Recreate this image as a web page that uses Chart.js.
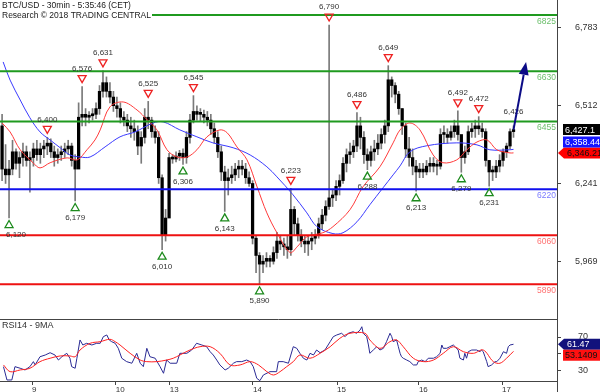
<!DOCTYPE html>
<html>
<head>
<meta charset="utf-8">
<script src="https://cdn.jsdelivr.net/npm/chart.js@4.4.0/dist/chart.umd.min.js"></script>
<style>
  body { margin: 0; background: #fff; }
  #wrap { position: relative; width: 600px; height: 392px; overflow: hidden; }
  canvas { position: absolute; left: 0; }
  #main { top: 0; }
  #rsi { top: 319px; }
</style>
</head>
<body>
<div id="wrap">
  <canvas id="main" width="600" height="320"></canvas>
  <canvas id="rsi" width="600" height="73"></canvas>
</div>
<script>
// one bar per hour, x = hour index from the left edge
const hi = [6480,6375,6320,6390,6360,6350,6380,6370,6350,6380, 6390,6380,6390,6400,6395,6370,6360,6370,6380,6390,
            6380,6340,6520,6576,6500,6490,6500,6520,6580,6631, 6610,6590,6560,6540,6520,6490,6480,6470,6460,6440,
            6420,6500,6525,6470,6440,6420,6270,6150,6345,6340, 6350,6355,6360,6420,6480,6545,6510,6500,6495,6490,
            6480,6450,6420,6370,6300,6290,6300,6310,6320,6320, 6310,6280,6250,6060,6000,5990,6000,5990,6020,6070,
            6060,6050,6060,6223,6160,6120,6080,6060,6060,6070, 6080,6120,6150,6180,6790,6220,6250,6270,6330,6360,
            6380,6390,6486,6470,6420,6360,6370,6390,6410,6430, 6460,6649,6610,6590,6560,6500,6450,6400,6360,6320,
            6310,6310,6320,6330,6330,6320,6430,6440,6430,6440, 6460,6492,6400,6370,6440,6450,6460,6472,6450,6430,
            6320,6300,6320,6340,6360,6380,6430,6440];
const lo = [6250,6240,6120,6270,6290,6260,6300,6300,6210,6300, 6320,6310,6330,6340,6330,6300,6310,6320,6330,6340,
            6300,6179,6300,6440,6440,6450,6460,6465,6480,6540, 6540,6520,6490,6470,6450,6440,6420,6400,6390,6340,
            6310,6380,6430,6400,6380,6240,6010,6040,6300,6310, 6315,6320,6306,6310,6380,6450,6460,6455,6450,6440,
            6410,6380,6330,6250,6143,6200,6240,6250,6260,6270, 6240,6230,6030,5930,5890,5930,5950,5950,5960,5980,
            6010,5990,5980,5990,6060,6040,6020,6000,5990,6010, 6030,6050,6080,6110,6150,6160,6180,6200,6240,6280,
            6310,6330,6350,6360,6310,6288,6300,6320,6340,6360, 6380,6420,6540,6520,6480,6410,6330,6300,6270,6213,
            6260,6260,6270,6280,6280,6270,6290,6380,6380,6390, 6400,6390,6279,6310,6340,6400,6400,6410,6400,6300,
            6231,6250,6260,6280,6300,6330,6360,6400];
const cl = [6290,6270,6290,6350,6310,6330,6350,6320,6330,6360, 6340,6360,6370,6380,6350,6330,6340,6350,6360,6370,
            6320,6290,6470,6480,6470,6475,6480,6500,6560,6590, 6560,6540,6510,6500,6470,6460,6440,6430,6420,6370,
            6400,6470,6460,6420,6400,6260,6060,6120,6330,6325, 6335,6345,6330,6400,6460,6490,6480,6480,6470,6460,
            6430,6400,6350,6280,6250,6260,6270,6290,6300,6290, 6260,6240,6050,5990,5960,5970,5980,5970,6000,6040,
            6030,6020,6010,6150,6100,6060,6040,6030,6040,6050, 6060,6100,6130,6160,6190,6200,6230,6250,6310,6340,
            6350,6370,6440,6400,6340,6320,6350,6360,6380,6410, 6440,6600,6580,6550,6500,6440,6360,6330,6300,6280,
            6290,6280,6300,6310,6300,6300,6410,6410,6400,6420, 6440,6410,6330,6350,6420,6430,6440,6430,6420,6320,
            6280,6280,6300,6320,6350,6370,6420,6427.1];
const firstOpen = 6440;

// moving averages on price, [hour, value]
const maFast = [[0,6450],[2.3,6419],[5.2,6357],[8.9,6312],[10.9,6294],[13.8,6312],[18.7,6329],[21.6,6322],[24.4,6357],
  [26.7,6391],[28.2,6426],[31,6506],[34.8,6523],[38.8,6495],[41.7,6461],[44.5,6426],[47.4,6357],[50.3,6332],[53.2,6332],
  [56,6357],[58.9,6402],[62.6,6426],[64.7,6416],[67.5,6367],[70.4,6322],[73.3,6228],[76.1,6138],[79,6069],[82.8,6000],
  [84.8,6020],[87.6,6055],[92.2,6069],[95.1,6090],[100,6149],[103.7,6228],[108.6,6298],[112.4,6381],[114.4,6426],
  [117.2,6450],[120.1,6426],[123.9,6339],[126.7,6312],[130.7,6322],[133.6,6357],[136.5,6384],[139.4,6391],[142.2,6357],
  [146,6346],[147,6346.21]];
const maSlow = [[0.3,6662],[2.3,6599],[5.2,6530],[8,6468],[10.9,6419],[13.8,6391],[16.7,6364],[19.5,6339],[22.4,6332],
  [25.3,6332],[29.6,6367],[33.9,6402],[38.2,6419],[43.4,6450],[46.3,6454],[51.1,6426],[56,6402],[60.6,6381],[66.4,6364],
  [71.3,6339],[76.1,6298],[79,6263],[83.6,6201],[87.6,6138],[90.5,6090],[95.1,6066],[98,6069],[102,6107],[105.7,6166],
  [109.5,6225],[112.4,6270],[114.4,6301],[117.2,6350],[122.1,6371],[130.7,6381],[136.5,6374],[140.2,6357],[146,6357],
  [147,6358.44]];

// support / resistance levels
const levels = [6825, 6630, 6455, 6220, 6060, 5890];
const levelColor = ['#1f9a1f','#1f9a1f','#1f9a1f','#1010ee','#ee1111','#ee1111'];
const levelText = ['#6cbf6c','#6cbf6c','#6cbf6c','#7a7aff','#ff7272','#ff7272'];

// swing highs (H), lows (L) and the last quote label (N)
const markHour  = [13, 23, 29, 42, 55, 83, 94, 102, 111, 131, 137, 2, 21, 46, 52, 64, 74, 105, 119, 132, 140, 147];
const markPrice = [6400,6576,6631,6525,6545,6223,6790,6486,6649,6492,6472, 6120,6179,6010,6306,6143,5890,6288,6213,6279,6231, 6426];
const markType  = ['H','H','H','H','H','H','H','H','H','H','H','L','L','L','L','L','L','L','L','L','L','N'];

const arrowTo = [150.6, 6662];

// RSI panel, [hour, value]
const rsiLine = [[0.4,35.1],[1.4,19.4],[2.8,19.4],[3.7,35.1],[5.2,33.2],[6.6,31.2],[8,35.1],[9,41],[9.5,37.1],[10.9,46.8],
  [12.4,48.8],[13.8,51.5],[15.2,48.8],[16.2,42.9],[17.2,46.8],[18.6,50.8],[19.5,45],[20,35.1],[21,33.2],[21.5,45],[22.4,66.5],
  [23.2,60.6],[24.3,62.6],[25.8,60.6],[27.2,62.6],[28.2,62.6],[29.1,70.4],[30.1,72.4],[30.8,66.5],[31.5,64.5],[32.5,62.6],
  [33.4,56.7],[34.4,45],[35.8,41],[37.3,39.1],[38.7,50.8],[39.7,39.1],[40.6,35.1],[41.6,56.7],[42.5,46.8],[44,45],[45.4,35.1],
  [46.4,27.3],[47.3,43],[48.3,39.1],[50.2,39.1],[51.1,50.8],[53.1,50.8],[54.5,54.7],[55.9,62.6],[57.4,60.6],[58.8,58.6],
  [59.8,52.7],[60.7,48.8],[61.7,42.9],[62.6,37.1],[64.1,31.2],[65,33.2],[66.5,39.1],[67.4,41],[68.9,41],[70.3,42.9],[71.3,41],
  [72.2,35.1],[73.2,21.4],[74.1,18.6],[75.1,25.3],[77,29.2],[78.9,29.2],[79.4,41],[80.8,41],[82.3,39.1],[83.7,58.6],[84.7,56.7],
  [85.6,50.8],[86.6,45],[87.6,42.9],[88.5,50.8],[89.5,48.8],[90.4,54.7],[91.4,51.5],[92.8,54.7],[94.3,64.5],[95.2,70.4],
  [96.2,72.4],[97.6,74.4],[98.6,70.4],[99.5,74.4],[100.9,76.2],[101.9,74.4],[102.9,78.2],[103.4,82.1],[103.8,74.4],[104.8,70.4],
  [105.3,60.6],[105.7,50.8],[106.7,54.7],[107.7,58.6],[108.6,54.7],[109.6,56.7],[110.5,64.5],[111.5,74.4],[112,70.4],[112.4,64.5],
  [113.4,66.5],[113.9,58.6],[114.4,50.8],[114.8,46.8],[115.3,45],[116.3,42.9],[117.2,41],[118.2,37.1],[119.2,37.1],[119.6,41],
  [120.6,42.9],[121.6,41],[122.5,45],[124,45],[124.9,46.8],[125.9,50.8],[126.4,60.6],[126.8,56.7],[127.8,56.7],[128.7,58.6],
  [129.7,60.6],[130.2,58.6],[131.1,54.7],[131.6,45],[132.6,42.9],[133,50.8],[133.5,45],[134,52.7],[135,54.7],[136.4,54.7],
  [137.4,52.7],[137.8,54.7],[138.3,52.7],[138.8,46.8],[139.3,41],[139.7,35.1],[140.7,37.1],[141.7,41],[142.2,41],[143.1,45],
  [144.1,52.7],[145,50.8],[145.5,58.6],[146,60.6],[147,61.47]];
const rsiMa = [[0.4,37.1],[2.3,29.2],[5.2,31.2],[8,33.2],[10.9,41],[13.8,45],[16.7,47.7],[19.5,47.7],[21,46.8],[22.4,54.7],
  [25.3,62.6],[28.2,64.5],[31,67.3],[32.5,64.5],[33.9,60.6],[36.8,50.8],[39.7,42.9],[41.6,41],[44.5,41],[47.3,42.9],[49.2,45],
  [51.1,48.8],[54,54.7],[56.9,58.6],[59.8,58.6],[62.6,50.8],[65.5,37.1],[68.4,37.1],[71.3,41],[73.7,37.1],[76.1,29.2],[78,25.3],
  [79.9,29.2],[81.8,35.1],[83.7,41],[85.6,48.8],[88.5,45],[91.4,50.8],[94.3,58.6],[97.1,68.5],[100,74.4],[104.3,74.4],
  [105.7,66.5],[108.6,56.7],[111.5,64.5],[113.4,66.5],[115.3,58.6],[118.2,45],[121.1,41],[124,42.9],[126.8,50.8],[129.7,58.6],
  [132.6,52.7],[135.5,50.8],[138.3,54.7],[141.2,41],[143.1,39.1],[145,45],[147,53.1409]];

const priceTicks = [5969, 6241, 6512, 6783];
const rsiTicks = [30, 50, 70];
const dayPos = [8.6, 32.7, 48.2, 72.1, 96.3, 119.8, 143.7];
const dayLabels = ['9', '10', '13', '14', '15', '16', '17'];

const xMin = -0.6, xMax = 159.5;
const FONT = '"Liberation Sans", Arial, sans-serif';
Chart.defaults.font.family = FONT;

const fmt = v => v.toLocaleString('en-US', { maximumFractionDigits: 4 });
const pts = arr => arr.map(([x, y]) => ({ x, y }));

// the axes should not push the plot area in
function noPad(s) {
  s.paddingTop = 0; s.paddingBottom = 0; s.paddingLeft = 0; s.paddingRight = 0;
}

// value tags on the right axis; the arrow tag stays put, the others step aside
function drawTags(ctx, tags, axisX, width) {
  const fixed = tags.find(t => t.arrow);
  const placed = [fixed];
  tags.filter(t => !t.arrow)
    .sort((a, b) => Math.abs(a.y - fixed.y) - Math.abs(b.y - fixed.y))
    .forEach(t => {
      const dir = t.y < fixed.y ? -1 : 1;
      placed.forEach(p => { if (Math.abs(t.y - p.y) < 11) t.y = p.y + dir * 11; });
      placed.push(t);
    });
  ctx.font = '9px ' + FONT;
  ctx.textBaseline = 'middle';
  ctx.textAlign = 'left';
  placed.forEach(t => {
    ctx.fillStyle = t.bg;
    ctx.beginPath();
    if (t.arrow) {
      ctx.moveTo(axisX + 1, t.y);
      ctx.lineTo(axisX + 7, t.y - 5.5);
      ctx.lineTo(width, t.y - 5.5);
      ctx.lineTo(width, t.y + 5.5);
      ctx.lineTo(axisX + 7, t.y + 5.5);
    } else {
      ctx.rect(axisX + 6, t.y - 5.5, width - axisX - 6, 11);
    }
    ctx.fill();
    ctx.fillStyle = t.fg;
    ctx.fillText(t.text, axisX + (t.arrow ? 10 : 8), t.y + 0.5);
  });
}

const mainDeco = {
  id: 'mainDeco',
  afterDatasetsDraw(chart) {
    const { ctx, chartArea: a, scales: { x, y } } = chart;
    ctx.save();

    // level labels
    ctx.font = '8.5px ' + FONT;
    ctx.textAlign = 'right';
    ctx.textBaseline = 'top';
    levels.forEach((v, i) => {
      ctx.fillStyle = levelText[i];
      ctx.fillText(String(v), a.right - 1, y.getPixelForValue(v) + 2);
    });

    // swing markers
    ctx.font = '8px ' + FONT;
    ctx.textAlign = 'center';
    ctx.textBaseline = 'middle';
    ctx.lineWidth = 1.3;
    markHour.forEach((h, i) => {
      const px = x.getPixelForValue(h), py = y.getPixelForValue(markPrice[i]);
      const t = markType[i];
      if (t === 'H') {
        ctx.strokeStyle = '#ee2222';
        ctx.beginPath();
        ctx.moveTo(px - 4, py - 11); ctx.lineTo(px + 4, py - 11); ctx.lineTo(px, py - 4); ctx.closePath();
        ctx.stroke();
      } else if (t === 'L') {
        ctx.strokeStyle = '#1c8a1c';
        ctx.beginPath();
        ctx.moveTo(px, py + 2.5); ctx.lineTo(px + 4, py + 9.5); ctx.lineTo(px - 4, py + 9.5); ctx.closePath();
        ctx.stroke();
      }
      const txt = fmt(markPrice[i]);
      const tx = Math.max(px, a.left + ctx.measureText(txt).width / 2 + 6);
      ctx.fillStyle = '#333';
      ctx.fillText(txt, tx, t === 'L' ? py + 17 : py - 18);
    });

    // forecast arrow
    const last = cl.length - 1;
    const x0 = x.getPixelForValue(last), y0 = y.getPixelForValue(cl[last]);
    const x1 = x.getPixelForValue(arrowTo[0]), y1 = y.getPixelForValue(arrowTo[1]);
    const ang = Math.atan2(y1 - y0, x1 - x0);
    const hl = 13, hw = 5;
    const bx = x1 - hl * Math.cos(ang), by = y1 - hl * Math.sin(ang);
    ctx.strokeStyle = '#0b0b86';
    ctx.fillStyle = '#0b0b86';
    ctx.lineWidth = 2;
    ctx.beginPath(); ctx.moveTo(x0, y0); ctx.lineTo(bx, by); ctx.stroke();
    ctx.beginPath();
    ctx.moveTo(x1, y1);
    ctx.lineTo(bx + hw * Math.sin(ang), by - hw * Math.cos(ang));
    ctx.lineTo(bx - hw * Math.sin(ang), by + hw * Math.cos(ang));
    ctx.closePath(); ctx.fill();

    // title block
    ctx.fillStyle = '#fff';
    ctx.fillRect(0, 0, 152, 21);
    ctx.fillStyle = '#1a1a1a';
    ctx.font = '8.5px ' + FONT;
    ctx.textAlign = 'left';
    ctx.fillText('BTC/USD - 30min - 5:35:46 (CET)', 2, 6);
    ctx.fillText('Research \u00a9 2018 TRADING CENTRAL', 2, 16);
    ctx.restore();
  },
  afterDraw(chart) {
    const { ctx, chartArea: a, scales: { y } } = chart;
    ctx.save();
    drawTags(ctx, [
      { y: y.getPixelForValue(cl[cl.length - 1]), text: fmt(cl[cl.length - 1]), bg: '#000', fg: '#fff' },
      { y: y.getPixelForValue(maSlow[maSlow.length - 1][1]), text: fmt(maSlow[maSlow.length - 1][1]), bg: '#1515ff', fg: '#fff' },
      { y: y.getPixelForValue(maFast[maFast.length - 1][1]), text: fmt(maFast[maFast.length - 1][1]), bg: '#ff0000', fg: '#111', arrow: true }
    ], a.right, chart.width);
    ctx.restore();
  }
};

const rsiDeco = {
  id: 'rsiDeco',
  afterDraw(chart) {
    const { ctx, chartArea: a, scales: { y } } = chart;
    ctx.save();
    ctx.strokeStyle = '#444';
    ctx.lineWidth = 1;
    ctx.beginPath();
    ctx.moveTo(0, 0.5); ctx.lineTo(a.right, 0.5);
    ctx.moveTo(Math.round(a.right) + 0.5, a.bottom); ctx.lineTo(Math.round(a.right) + 0.5, chart.height);
    ctx.stroke();
    ctx.fillStyle = '#333';
    ctx.font = '9px ' + FONT;
    ctx.textBaseline = 'middle';
    ctx.fillText('RSI14 - 9MA', 2, 7);
    drawTags(ctx, [
      { y: y.getPixelForValue(rsiLine[rsiLine.length - 1][1]), text: fmt(rsiLine[rsiLine.length - 1][1]), bg: '#12127c', fg: '#fff', arrow: true },
      { y: y.getPixelForValue(rsiMa[rsiMa.length - 1][1]), text: fmt(rsiMa[rsiMa.length - 1][1]), bg: '#ff1010', fg: '#111' }
    ], a.right, chart.width);
    ctx.restore();
  }
};

const axisGrid = { drawOnChartArea: false, tickLength: 4, color: '#444' };

new Chart(document.getElementById('main'), {
  type: 'bar',
  data: {
    datasets: [
      ...levels.map((v, i) => ({
        type: 'line', data: [{ x: xMin, y: v }, { x: xMax, y: v }],
        borderColor: levelColor[i], borderWidth: 2, pointRadius: 0, order: 0
      })),
      { type: 'line', data: pts(maFast), borderColor: '#ff3a3a', borderWidth: 1, pointRadius: 0, tension: 0.35, order: 1 },
      { type: 'line', data: pts(maSlow), borderColor: '#3a3aff', borderWidth: 1, pointRadius: 0, tension: 0.35, order: 1 },
      { type: 'bar', data: cl.map((c, i) => ({ x: i, y: [i ? cl[i - 1] : firstOpen, c] })),
        backgroundColor: '#000', barThickness: 2.6, minBarLength: 2, grouped: false, order: 2 },
      { type: 'bar', data: hi.map((h, i) => ({ x: i, y: [lo[i], h] })),
        backgroundColor: '#7a7a7a', barThickness: 1, grouped: false, order: 3 }
    ]
  },
  options: {
    responsive: false, animation: false, devicePixelRatio: 1,
    layout: { padding: 0 },
    plugins: { legend: { display: false }, tooltip: { enabled: false } },
    scales: {
      x: { type: 'linear', min: xMin, max: xMax, display: false, offset: false, bounds: 'data' },
      y: {
        position: 'right', min: 5766, max: 6877, bounds: 'data',
        afterBuildTicks: s => { s.ticks = priceTicks.map(v => ({ value: v })); },
        afterFit: s => { s.width = 43; noPad(s); },
        grid: axisGrid, border: { color: '#444' },
        ticks: { padding: 14, color: '#333', font: { size: 9 }, callback: v => fmt(v) }
      }
    }
  },
  plugins: [mainDeco]
});

new Chart(document.getElementById('rsi'), {
  type: 'line',
  data: {
    datasets: [
      { data: pts(rsiMa), borderColor: '#ff2020', borderWidth: 1, pointRadius: 0, tension: 0.35 },
      { data: pts(rsiLine), borderColor: '#2a2a94', borderWidth: 1, pointRadius: 0 }
    ]
  },
  options: {
    responsive: false, animation: false, devicePixelRatio: 1,
    layout: { padding: 0 },
    plugins: { legend: { display: false }, tooltip: { enabled: false } },
    scales: {
      x: {
        type: 'linear', min: xMin, max: xMax, bounds: 'data',
        afterBuildTicks: s => { s.ticks = dayPos.map(v => ({ value: v })); },
        afterFit: s => { s.height = 11; noPad(s); },
        grid: axisGrid, border: { color: '#444' },
        ticks: { align: 'start', padding: 0, maxRotation: 0, autoSkip: false, color: '#333', font: { size: 8 },
                 callback: (v, i) => dayLabels[i] }
      },
      y: {
        position: 'right', min: 18.2, max: 91.2, bounds: 'data',
        afterBuildTicks: s => { s.ticks = rsiTicks.map(v => ({ value: v })); },
        afterFit: s => { s.width = 43; noPad(s); },
        grid: axisGrid, border: { color: '#444' },
        ticks: { padding: 17, color: '#333', font: { size: 9 }, callback: v => (v === 50 ? '' : String(v)) }
      }
    }
  },
  plugins: [rsiDeco]
});
</script>
</body>
</html>
